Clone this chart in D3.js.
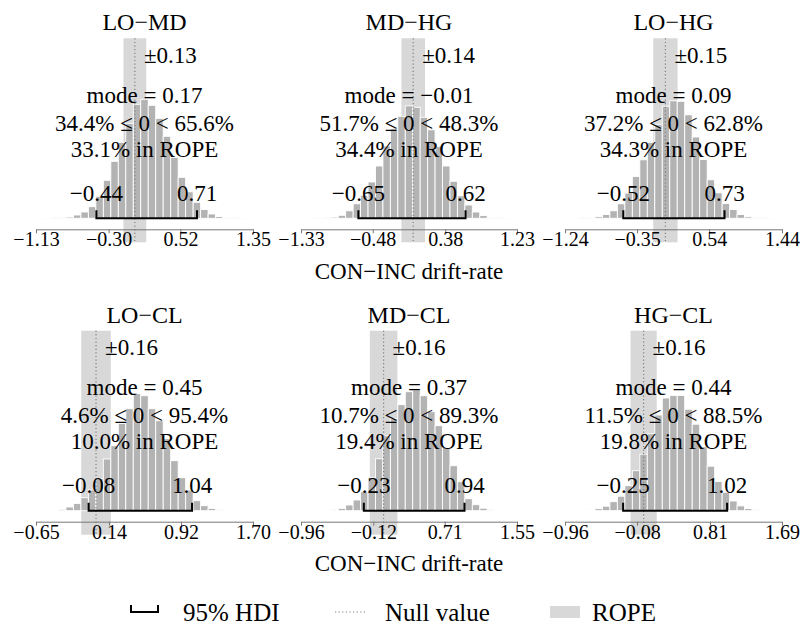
<!DOCTYPE html>
<html>
<head>
<meta charset="utf-8">
<script src="https://cdn.jsdelivr.net/npm/d3@7"></script>
<style>
  body { margin: 0; background: #fff; }
</style>
</head>
<body>
<div id="chart"></div>
<script>
// values, one entry per panel (row by row)
const titles   = ["LO\u2212MD", "MD\u2212HG", "LO\u2212HG", "LO\u2212CL", "MD\u2212CL", "HG\u2212CL"];
const tickVals = [
  [-1.13, -0.30, 0.52, 1.35],
  [-1.33, -0.48, 0.38, 1.23],
  [-1.24, -0.35, 0.54, 1.44],
  [-0.65, 0.14, 0.92, 1.70],
  [-0.96, -0.12, 0.71, 1.55],
  [-0.96, -0.08, 0.81, 1.69]
];
const ropeHalf = [0.13, 0.14, 0.15, 0.16, 0.16, 0.16];
const modes    = [0.17, -0.01, 0.09, 0.45, 0.37, 0.44];
const pctBelow = [34.4, 51.7, 37.2, 4.6, 10.7, 11.5];
const pctAbove = [65.6, 48.3, 62.8, 95.4, 89.3, 88.5];
const pctRope  = [33.1, 34.4, 34.3, 10.0, 19.4, 19.8];
const hdiLow   = [-0.44, -0.65, -0.52, -0.08, -0.23, -0.25];
const hdiHigh  = [0.71, 0.62, 0.73, 1.04, 0.94, 1.02];

// bar heights (relative frequency), bins span the axis range evenly
const hist = [
  [0.1,0.2,0.4,0.7,1.3,3.3,6.3,11.6,22,38,57,76,95,114,119,113,100,82,61,41,26.5,16,8.7,4.3,1.8,0.8,0.4,0.2,0.1],
  [0.1,0.2,0.3,0.6,1.2,3,7.5,14.5,23,36.3,52.3,72.3,89.5,102,112.5,111,101,88.5,72,52.3,37,22.5,13.3,6.3,2.7,0.9,0.4,0.2,0.1],
  [0.1,0.2,0.4,0.8,1.6,3.8,7.5,14.5,25.3,41.7,58.5,76,94,112,117.5,117,103.5,81.3,58.8,38.5,25.5,14.7,8.8,3.8,1.5,0.7,0.4,0.2,0.1],
  [0.1,0.2,0.4,1.3,3.7,7.3,13,20.7,32.3,51.7,65,87.3,102,117,115,102,90,72,50,33,20.7,10,5,2.3,1,0.5,0.2,0.1,0.1],
  [0.05,0.1,0.2,0.4,1,2.3,5.7,10.7,19,33,52,75,92,106,119,120.7,115,99,85,63,45,29,12,6,2.5,1,0.4,0.2,0.1],
  [0.1,0.2,0.4,0.8,2,4.5,9,14.5,25,40,56.5,77,95.7,112.7,115.3,115.3,101.5,86.5,64,44.5,29.3,18.5,9.7,4.8,2.1,1,0.5,0.2,0.1]
];

const xLabel = "CON\u2212INC drift-rate";
const legendLabels = ["95% HDI", "Null value", "ROPE"];

const width = 800, height = 631;
const colRanges = [[36, 253], [301, 517], [565, 782]];
const rowBase = [218.3, 510.7];

const serif = "'Liberation Serif', 'Times New Roman', Times, 'DejaVu Serif', serif";
const barColor = "#b3b3b3";
const ropeColor = "#d8d8d8";
const nullColor = "#808080";

const fmt2 = d3.format(".2f");
const fmt1 = d3.format(".1f");

const svg = d3.select("#chart").append("svg")
  .attr("width", width)
  .attr("height", height);

titles.forEach((title, p) => {
  const col = p % 3, row = Math.floor(p / 3);
  const [x0, x1] = colRanges[col];
  const base = rowBase[row];
  const ticks = tickVals[p];
  const cx = (x0 + x1) / 2;

  const xScale = d3.scaleLinear()
    .domain([ticks[0], ticks[ticks.length - 1]])
    .range([x0, x1]);
  const yScale = d3.scaleLinear()
    .domain([0, 120])
    .range([base, base - 120]);

  const g = svg.append("g").attr("class", "panel");

  // ROPE band
  g.append("rect")
    .attr("x", xScale(-ropeHalf[p]))
    .attr("y", base - 180)
    .attr("width", xScale(ropeHalf[p]) - xScale(-ropeHalf[p]))
    .attr("height", 204)
    .attr("fill", ropeColor);

  // histogram
  const counts = hist[p];
  const binW = (ticks[ticks.length - 1] - ticks[0]) / counts.length;
  g.selectAll(".bar").data(counts).enter().append("rect")
    .attr("class", "bar")
    .attr("x", (d, i) => xScale(ticks[0] + i * binW))
    .attr("width", xScale(ticks[0] + binW) - xScale(ticks[0]))
    .attr("y", d => yScale(d))
    .attr("height", d => base - yScale(d))
    .attr("fill", barColor)
    .attr("stroke", "#fff")
    .attr("stroke-width", 0.9);

  // null value
  g.append("line")
    .attr("x1", xScale(0)).attr("x2", xScale(0))
    .attr("y1", base - 180).attr("y2", base + 24)
    .attr("stroke", nullColor)
    .attr("stroke-width", 1.2)
    .attr("stroke-dasharray", "1.2,2.4");

  // HDI bracket
  g.append("path")
    .attr("d", `M${xScale(hdiLow[p])},${base - 8}V${base}H${xScale(hdiHigh[p])}V${base - 8}`)
    .attr("fill", "none")
    .attr("stroke", "#000")
    .attr("stroke-width", 2);

  // axis
  const xAxis = d3.axisBottom(xScale)
    .tickValues(ticks)
    .tickFormat(fmt2)
    .tickSize(4)
    .tickSizeOuter(0);
  const axisG = g.append("g")
    .attr("transform", `translate(0,${base + 11})`)
    .attr("font-family", serif)
    .call(xAxis);
  axisG.select(".domain").attr("stroke", "#777");
  axisG.selectAll(".tick line").attr("stroke", "#777");
  axisG.selectAll(".tick text")
    .attr("y", 10).attr("dy", "0.35em")
    .style("font-family", serif)
    .style("font-size", "20px")
    .attr("fill", "#000");

  // texts
  const txt = (x, y, s, size, anchor) => g.append("text")
    .attr("x", x).attr("y", y).attr("dy", "0.35em")
    .attr("text-anchor", anchor || "middle")
    .style("font-family", serif)
    .style("font-size", size + "px")
    .attr("fill", "#000")
    .text(s);

  txt(cx, base - 196.6, title, 24);
  txt(xScale(0) + 9, base - 163.3, "\u00b1" + fmt2(ropeHalf[p]), 23, "start");
  txt(cx, base - 123.3, "mode = " + fmt2(modes[p]), 23);
  txt(cx, base - 95.6, fmt1(pctBelow[p]) + "% \u2264 0 < " + fmt1(pctAbove[p]) + "%", 23);
  txt(cx, base - 69.3, fmt1(pctRope[p]) + "% in ROPE", 23);
  txt(xScale(hdiLow[p]), base - 25.6, fmt2(hdiLow[p]), 23);
  txt(xScale(hdiHigh[p]), base - 25.6, fmt2(hdiHigh[p]), 23);
  if (col === 1) txt(cx, base + 52.6, xLabel, 23);
});

// legend
const leg = svg.append("g").attr("class", "legend");
const ly = 612;
leg.append("path")
  .attr("d", `M131,${ly - 7}V${ly}H158V${ly - 7}`)
  .attr("fill", "none").attr("stroke", "#000").attr("stroke-width", 2);
leg.append("line")
  .attr("x1", 335).attr("x2", 367).attr("y1", ly).attr("y2", ly)
  .attr("stroke", nullColor).attr("stroke-width", 1.2)
  .attr("stroke-dasharray", "1.2,2.4");
leg.append("rect")
  .attr("x", 550).attr("y", ly - 6).attr("width", 30).attr("height", 12)
  .attr("fill", ropeColor);
[183, 385, 592].forEach((x, i) => {
  leg.append("text")
    .attr("x", x).attr("y", ly).attr("dy", "0.35em")
    .style("font-family", serif)
    .style("font-size", "25px")
    .attr("fill", "#000")
    .text(legendLabels[i]);
});
</script>
</body>
</html>
